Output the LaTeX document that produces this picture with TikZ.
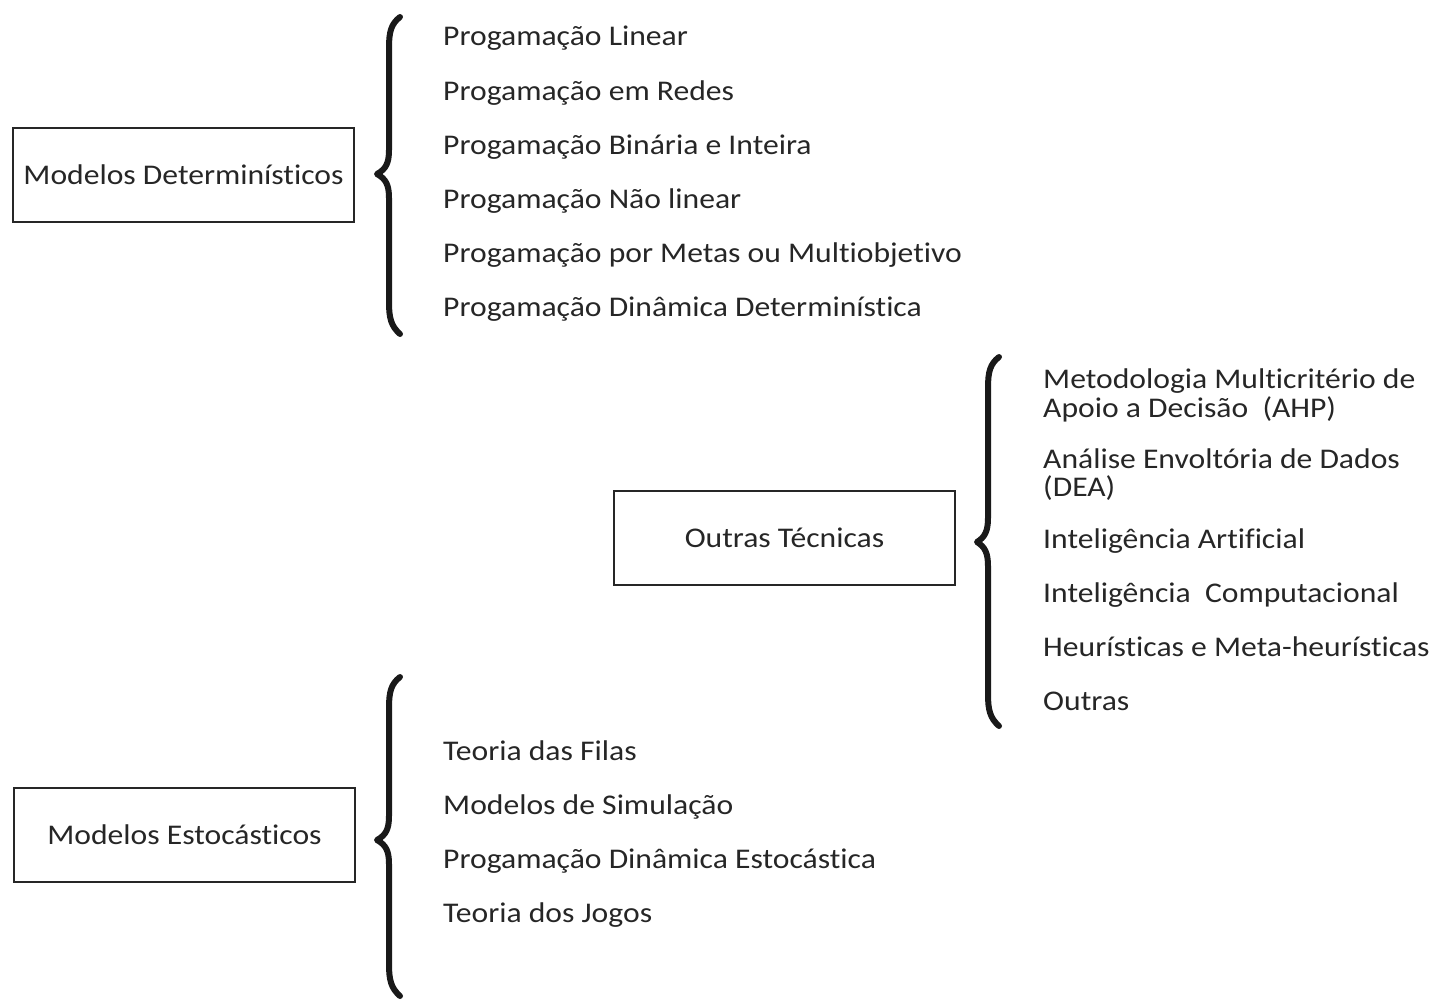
\documentclass[tikz,border=0pt]{standalone}
\usepackage{fontspec}
\setmainfont{Carlito}[FakeStretch=1.11, Ligatures={NoCommon,NoRare}]
\begin{document}
\begin{tikzpicture}[x=1pt,y=-1pt,
  every node/.style={font=\fontsize{28.5}{28}\selectfont, text=black!85},
  item/.style={anchor=base west, inner sep=0pt},
  catbox/.style={draw=black!85, line width=1.3pt, minimum width=341pt, minimum height=94pt, inner sep=0pt},
  bracestyle/.style={line width=6pt, line cap=round, line join=round, draw=black!90}]
\useasboundingbox (0,0) rectangle (1438,1002);

% boxes
\node[catbox] (det) at (183.5,175) {Modelos Determinísticos};
\node[catbox] (out) at (784.5,538) {Outras Técnicas};
\node[catbox] (est) at (184.5,835) {Modelos Estocásticos};

% braces
\draw[bracestyle] (400,17) .. controls (391,24) and (389,32) .. (389,48) -- (389,150)
  .. controls (389,163) and (386,169) .. (377,174) .. controls (386,179) and (389,185) .. (389,198)
  -- (389,302) .. controls (389,318) and (391,326) .. (400,334);
\draw[bracestyle] (999,357) .. controls (990,364) and (988,372) .. (988,388) -- (988,518)
  .. controls (988,531) and (985,537) .. (977,542) .. controls (985,547) and (988,553) .. (988,566)
  -- (988,694) .. controls (988,710) and (990,718) .. (999,726);
\draw[bracestyle] (400,677) .. controls (391,684) and (389,692) .. (389,708) -- (389,816)
  .. controls (389,829) and (386,835) .. (377,840) .. controls (386,845) and (389,851) .. (389,864)
  -- (389,964) .. controls (389,980) and (391,988) .. (400,996);

% deterministic items
\node[item] (d1) at (443,45) {Progamação Linear};
\node[item] (d2) at (443,100) {Progamação em Redes};
\node[item] (d3) at (443,154) {Progamação Binária e Inteira};
\node[item] (d4) at (443,208) {Progamação Não linear};
\node[item] (d5) at (443,262) {Progamação por Metas ou Multiobjetivo};
\node[item] (d6) at (443,316) {Progamação Dinâmica Determinística};

% other techniques
\node[item] (o1a) at (1043,388) {Metodologia Multicritério de};
\node[item] (o1b) at (1043,417) {Apoio a Decisão\ \ (AHP)};
\node[item] (o2a) at (1043,468) {Análise Envoltória de Dados};
\node[item] (o2b) at (1043,496) {(DEA)};
\node[item] (o3) at (1043,548) {Inteligência Artificial};
\node[item] (o4) at (1043,602) {Inteligência\ \ Computacional};
\node[item] (o5) at (1043,656) {Heurísticas e Meta-heurísticas};
\node[item] (o6) at (1043,710) {Outras};

% stochastic items
\node[item] (s1) at (443,760) {Teoria das Filas};
\node[item] (s2) at (443,814) {Modelos de Simulação};
\node[item] (s3) at (443,868) {Progamação Dinâmica Estocástica};
\node[item] (s4) at (443,922) {Teoria dos Jogos};
\end{tikzpicture}
\end{document}
